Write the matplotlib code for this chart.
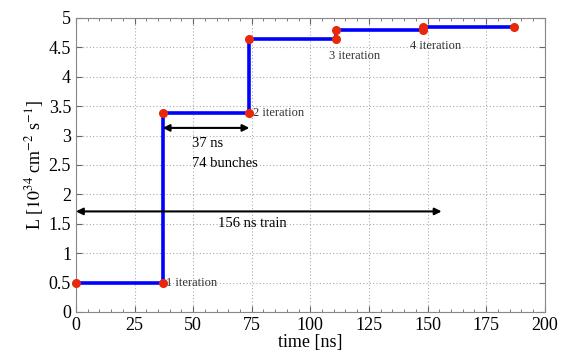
import matplotlib.pyplot as plt
from matplotlib.ticker import MultipleLocator

plt.rcParams['font.family'] = ['Liberation Serif', 'DejaVu Serif']
plt.rcParams['mathtext.fontset'] = 'stix'

# step edges (ns) and luminosity levels
t_edges = [0, 37, 74, 111, 148, 187]
lumi = [0.5, 3.38, 4.65, 4.80, 4.84]

# marker points at iteration boundaries
dot_t = [0, 37, 37, 74, 74, 111, 111, 148, 148, 187]
dot_l = [0.5, 0.5, 3.38, 3.38, 4.65, 4.65, 4.80, 4.80, 4.84, 4.84]

iter_labels = ['1 iteration', '2 iteration', '3 iteration', '4 iteration']
iter_pos = [(38.5, 0.5), (75.5, 3.38), (108, 4.36), (142.5, 4.52)]

fig = plt.figure(figsize=(5.71, 3.59), dpi=100)
ax = fig.add_axes([0.133, 0.131, 0.821, 0.819])

xs, ys = [], []
for i, l in enumerate(lumi):
    xs += [t_edges[i], t_edges[i + 1]]
    ys += [l, l]
ax.plot(xs, ys, color='#0000ff', lw=2.6, zorder=3)
ax.plot(dot_t, dot_l, 'o', color='#e8280a', ms=5.5, zorder=4, clip_on=False)

for lbl, (x, y) in zip(iter_labels, iter_pos):
    ax.text(x, y, lbl, fontsize=9, color='#333333', va='center', ha='left')

# bunch spacing arrow
ax.annotate('', xy=(37, 3.13), xytext=(74, 3.13),
            arrowprops=dict(arrowstyle='<|-|>', color='black', lw=1.5, mutation_scale=10,
                            shrinkA=0, shrinkB=0))
ax.text(49.5, 2.86, '37 ns', fontsize=10.5, va='center')
ax.text(49.5, 2.53, '74 bunches', fontsize=10.5, va='center')

# train length arrow
ax.annotate('', xy=(0, 1.71), xytext=(156, 1.71),
            arrowprops=dict(arrowstyle='<|-|>', color='black', lw=1.5, mutation_scale=10,
                            shrinkA=0, shrinkB=0))
ax.text(60.5, 1.5, '156 ns train', fontsize=10.5, va='center')

ax.set_xlim(0, 200)
ax.set_ylim(0, 5)
ax.xaxis.set_major_locator(MultipleLocator(25))
ax.xaxis.set_minor_locator(MultipleLocator(5))
ax.set_yticks([0, 0.5, 1, 1.5, 2, 2.5, 3, 3.5, 4, 4.5, 5])
ax.set_yticklabels(['0', '0.5', '1', '1.5', '2', '2.5', '3', '3.5', '4', '4.5', '5'])
ax.grid(True, which='major', linestyle=(0, (1, 2)), color='#aaaaaa', lw=0.8)
ax.tick_params(direction='in', which='both', top=True, right=True, colors='#666666',
               labelcolor='black', labelsize=13)
ax.tick_params(which='minor', length=2)
ax.tick_params(which='major', length=4)
for s in ax.spines.values():
    s.set_color('#888888')

ax.set_xlabel('time [ns]', fontsize=13, labelpad=0)
ax.set_ylabel(r'L [$10^{34}$ cm$^{-2}$ s$^{-1}$]', fontsize=13, labelpad=2)

fig.savefig('out.png', dpi=100)
